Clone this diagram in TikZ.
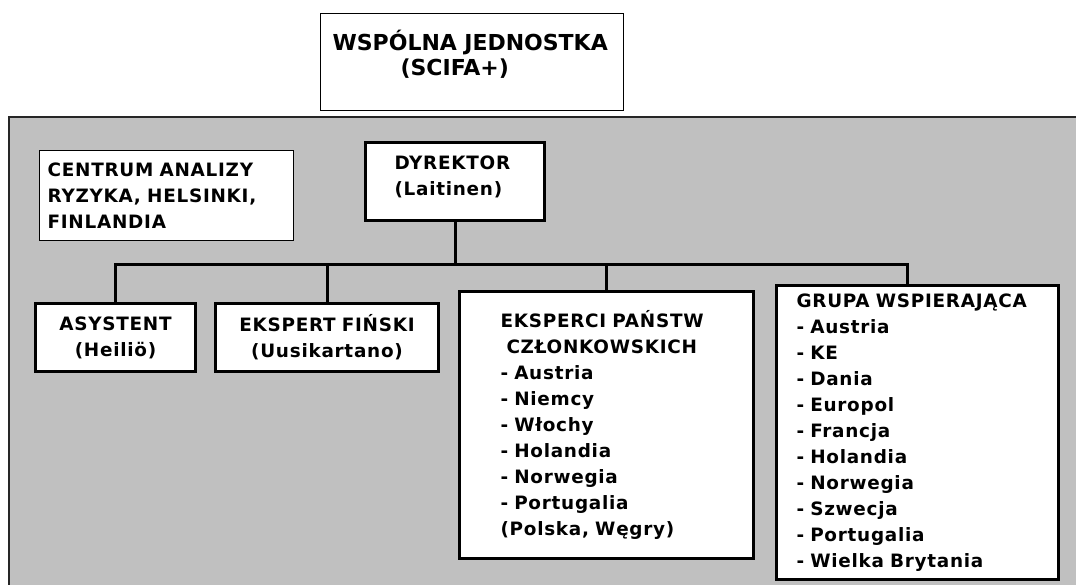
\documentclass[tikz,border=0pt]{standalone}
\usepackage{fontspec}
\setmainfont{DejaVu Sans}[LetterSpace=4]
\newfontfamily\titlefont{DejaVu Sans}
\definecolor{panelgray}{RGB}{192,192,192}
\begin{document}
\begin{tikzpicture}[x=1pt,y=-1pt]
    \tikzstyle{every node}+=[font=\fontsize{18.4}{26}\selectfont\bfseries]
    \tikzstyle{orgbox}=[draw=black, fill=white, line width=3pt, anchor=north west, inner ysep=0pt]
    \tikzstyle{thinbox}=[orgbox, line width=1.2pt]
    \tikzstyle{conn}=[black, line width=3pt]
    \useasboundingbox (0,0) rectangle (1076,585);
    \fill [panelgray] (9,117) rectangle (1076,585);
    \draw [black!85, line width=2pt] (9,585) -- (9,117) -- (1076,117);
    \node [thinbox, minimum height=97pt, inner xsep=12pt, text width=279pt, align=left, text depth=44pt, font=\fontsize{22}{25}\selectfont\titlefont\bfseries] (unit) at (320,13) {WSPÓLNA~JEDNOSTKA\\\hspace*{68pt}(SCIFA+)};
    \node [orgbox, minimum height=78pt, inner xsep=29pt, text width=121pt, align=left, text depth=37pt] (dyr) at (364,141) {DYREKTOR\\(Laitinen)};
    \node [thinbox, minimum height=90pt, inner xsep=8pt, text width=238pt, align=left] (risk) at (39,150) {CENTRUM~ANALIZY\\RYZYKA,~HELSINKI,\\FINLANDIA};
    \node [orgbox, minimum height=68pt, inner xsep=0pt, text width=160pt, align=center] (asys) at (34,302) {ASYSTENT\\(Heiliö)};
    \node [orgbox, minimum height=68pt, inner xsep=0pt, text width=223pt, align=center] (fin) at (214,302) {EKSPERT~FIŃSKI\\(Uusikartano)};
    \node [orgbox, minimum height=267pt, inner xsep=41pt, text width=212pt, align=left] (eksp) at (458,290) {EKSPERCI~PAŃSTW\\\hspace*{6pt}CZŁONKOWSKICH\\- Austria\\- Niemcy\\- Włochy\\- Holandia\\- Norwegia\\- Portugalia\\(Polska,~Węgry)};
    \node [orgbox, minimum height=294pt, inner xsep=20pt, text width=242pt, align=left] (grupa) at (775,284) {GRUPA~WSPIERAJĄCA\\- Austria\\- KE\\- Dania\\- Europol\\- Francja\\- Holandia\\- Norwegia\\- Szwecja\\- Portugalia\\- Wielka~Brytania};
    \coordinate (bus) at (453.5,265);
    \coordinate (gdrop) at (907,284);
    \draw [conn] (dyr.south) -- (dyr.south |- bus);
    \draw [conn] (asys.north) |- (bus) -| (gdrop);
    \draw [conn] (fin.north) -- (fin.north |- bus);
    \draw [conn] (eksp.north) -- (eksp.north |- bus);
\end{tikzpicture}
\end{document}
